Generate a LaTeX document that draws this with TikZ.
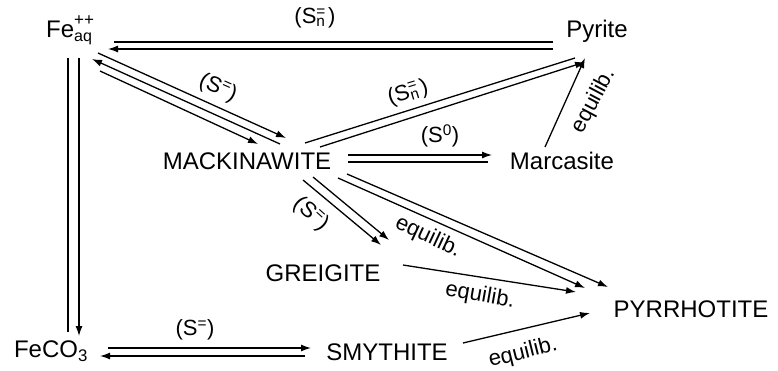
\documentclass[tikz,border=0pt]{standalone}
\usepackage{fontspec}
\setmainfont{Liberation Sans}
\usetikzlibrary{arrows.meta}
\newcommand{\Sn}{(S\rlap{\textsuperscript{=}}\textsubscript{n}\hspace{0.12em})}
\newcommand{\Seq}{(S\textsuperscript{=})}
\begin{document}
\begin{tikzpicture}[x=1pt,y=-1pt,
  txt/.style={inner sep=0pt, font=\fontsize{24}{28}\selectfont},
  lab/.style={inner sep=0pt, font=\fontsize{22}{26}\selectfont},
  ln/.style={line width=1.3pt},
  arr/.style={ln, -{Latex[length=10pt,width=7pt]}}]
\useasboundingbox (0,0) rectangle (778,370);
% nodes
\node[txt, anchor=base west] (fe) at (46,37) {Fe\rlap{\raisebox{0.5em}{\fontsize{17}{18}\selectfont ++}}\raisebox{-0.2em}{\fontsize{16}{17}\selectfont aq}};
\node[txt] (pyrite) at (597,31) {Pyrite};
\node[txt] (mack) at (247,161) {MACKINAWITE};
\node[txt] (marc) at (562,161) {Marcasite};
\node[txt] (greig) at (323,273) {GREIGITE};
\node[txt] (pyrr) at (691,309) {PYRRHOTITE};
\node[txt] (smy) at (387,352) {SMYTHITE};
\node[txt] (feco) at (51,351) {FeCO\textsubscript{3}};
% endpoints
\coordinate (pf1s) at (553,42); \coordinate (pf1e) at (114,42);
\coordinate (pf2s) at (553,49); \coordinate (pf2e) at (108,49);
\coordinate (fc1s) at (68,58);  \coordinate (fc1e) at (68,332);
\coordinate (fc2s) at (79,58);  \coordinate (fc2e) at (79,336);
\coordinate (cs1s) at (108,348); \coordinate (cs1e) at (311,348);
\coordinate (cs2s) at (305,356); \coordinate (cs2e) at (100,356);
\coordinate (fm1s) at (98,53);  \coordinate (fm1e) at (286,138);
\coordinate (fm2s) at (280,144); \coordinate (fm2e) at (92,59);
\coordinate (fm3s) at (100,71); \coordinate (fm3e) at (258,144);
\coordinate (mp1s) at (305,143); \coordinate (mp1e) at (575,58);
\coordinate (mp2s) at (320,147); \coordinate (mp2e) at (585,62);
\coordinate (mm1s) at (348,155); \coordinate (mm1e) at (492,155);
\coordinate (mm2s) at (348,162); \coordinate (mm2e) at (488,162);
\coordinate (mg1s) at (303,180); \coordinate (mg1e) at (381,245);
\coordinate (mg2s) at (313,177); \coordinate (mg2e) at (389,240);
\coordinate (mr1s) at (338,178); \coordinate (mr1e) at (585,288);
\coordinate (mr2s) at (347,174); \coordinate (mr2e) at (608,287);
\coordinate (gr1s) at (403,265); \coordinate (gr1e) at (576,292);
\coordinate (sr1s) at (463,343); \coordinate (sr1e) at (590,313);
\coordinate (kp1s) at (545,147); \coordinate (kp1e) at (585,58);
% connectors
\draw[ln] (pf1s) -- (pf1e);
\draw[arr] (pf2s) -- (pf2e);
\draw[ln] (fc1s) -- (fc1e);
\draw[arr] (fc2s) -- (fc2e);
\draw[arr] (cs1s) -- (cs1e);
\draw[arr] (cs2s) -- (cs2e);
\draw[arr] (fm1s) -- (fm1e);
\draw[arr] (fm2s) -- (fm2e);
\draw[arr] (fm3s) -- (fm3e);
\draw[ln] (mp1s) -- (mp1e);
\draw[arr] (mp2s) -- (mp2e);
\draw[arr] (mm1s) -- (mm1e);
\draw[ln] (mm2s) -- (mm2e);
\draw[arr] (mg1s) -- (mg1e);
\draw[arr] (mg2s) -- (mg2e);
\draw[arr] (mr1s) -- (mr1e);
\draw[arr] (mr2s) -- (mr2e);
\draw[arr] (gr1s) -- (gr1e);
\draw[arr] (sr1s) -- (sr1e);
\draw[arr] (kp1s) -- (kp1e);
% labels
\node[lab] (l1) at (315,18) {\Sn};
\node[lab, rotate=-24] (l2) at (218,88) {\Seq};
\node[lab, rotate=17] (l3) at (408,93) {\Sn};
\node[lab] (l4) at (440,136) {(S\textsuperscript{0})};
\node[lab, rotate=62] (l5) at (594,101) {equilib.};
\node[lab, rotate=-42] (l6) at (311,214) {\Seq};
\node[lab, rotate=-25] (l7) at (428,237) {equilib.};
\node[lab, rotate=-10] (l8) at (480,296) {equilib.};
\node[lab, rotate=14] (l9) at (523,353) {equilib.};
\node[lab] (l10) at (195,330) {\Seq};
\end{tikzpicture}
\end{document}
